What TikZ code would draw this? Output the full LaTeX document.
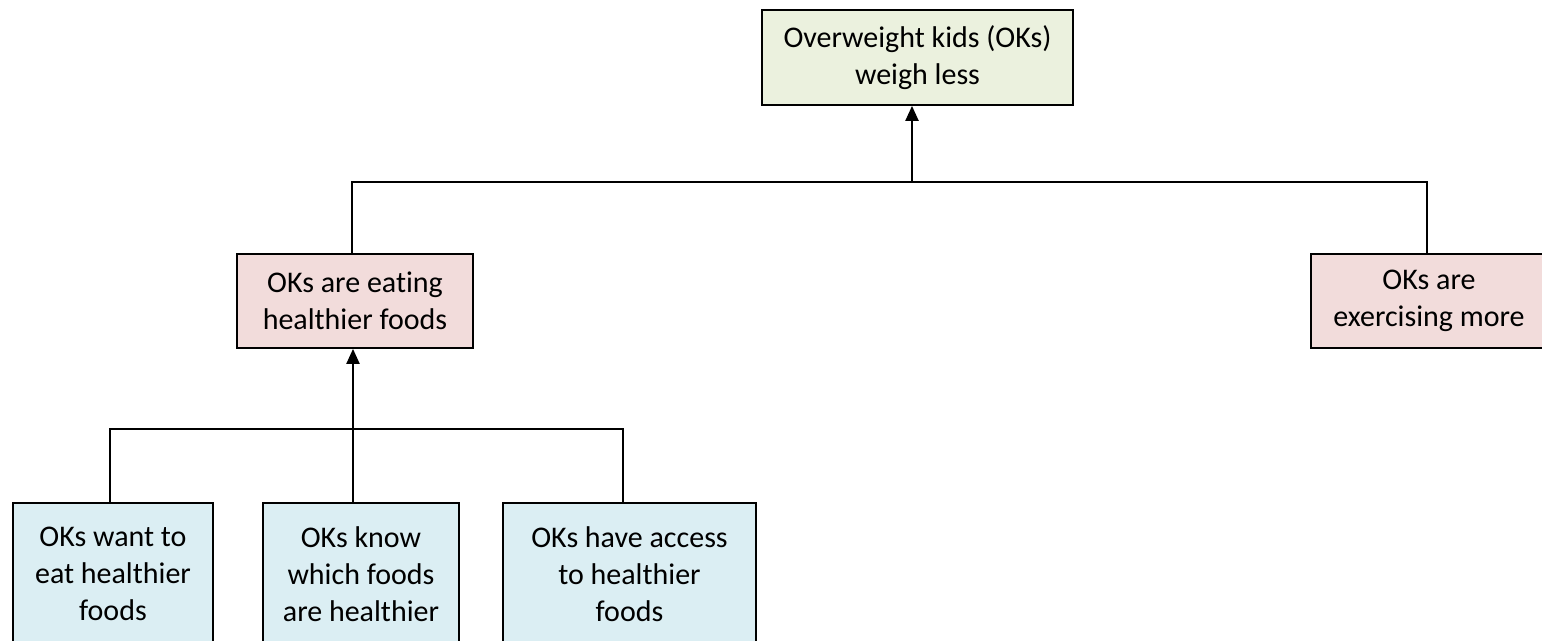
\documentclass[tikz,border=0pt]{standalone}
\usepackage{fontspec}
\setmainfont{Carlito}[Ligatures=NoCommon]
\usetikzlibrary{arrows.meta}
\definecolor{goalgreen}{HTML}{EBF1DE}
\definecolor{midpink}{HTML}{F2DCDB}
\definecolor{leafblue}{HTML}{DBEEF3}
\tikzset{
  box/.style={draw=black, line width=1.8pt, align=center, inner sep=0pt,
    font=\fontsize{30}{37}\selectfont},
  goalbox/.style={box, fill=goalgreen},
  midbox/.style={box, fill=midpink},
  leafbox/.style={box, fill=leafblue},
  bus/.style={draw=black, line width=1.3pt},
  uparrow/.style={draw=black, line width=2.2pt, -{Triangle[length=15pt,width=13pt]}}
}
\begin{document}
\begin{tikzpicture}[x=1pt,y=-1pt]
  \useasboundingbox (0,0) rectangle (1542,640);
  % goal
  \node[goalbox, minimum width=311pt, minimum height=95pt] (goal) at (917.5,57.5)
    {Overweight kids (OKs)\\weigh less};
  % second level
  \node[midbox, minimum width=236pt, minimum height=94pt] (eat) at (355,301)
    {OKs are eating\\healthier foods};
  \node[midbox, minimum width=236pt, minimum height=94pt] (exer) at (1429,301)
    {OKs are\\exercising more};
  % third level
  \node[leafbox, minimum width=200pt, minimum height=142pt] (want) at (113,574)
    {OKs want to\\eat healthier\\foods};
  \node[leafbox, minimum width=196pt, minimum height=142pt] (know) at (361,574)
    {OKs know\\which foods\\are healthier};
  \node[leafbox, minimum width=253pt, minimum height=142pt] (access) at (629.5,574)
    {OKs have access\\to healthier\\foods};
  % upper bus
  \coordinate (topL) at (352,182);
  \coordinate (topR) at (1427,182);
  \coordinate (topM) at (912,182);
  \draw[bus] (topL |- eat.north) -- (topL) -- (topR) -- (topR |- exer.north);
  \draw[uparrow] (topM) -- (topM |- goal.south);
  % lower bus
  \coordinate (lowL) at (110,429);
  \coordinate (lowR) at (623,429);
  \coordinate (lowM) at (353,429);
  \draw[bus] (lowL |- want.north) -- (lowL) -- (lowR) -- (lowR |- access.north);
  \draw[uparrow] (lowM |- know.north) -- (lowM |- eat.south);
\end{tikzpicture}
\end{document}
